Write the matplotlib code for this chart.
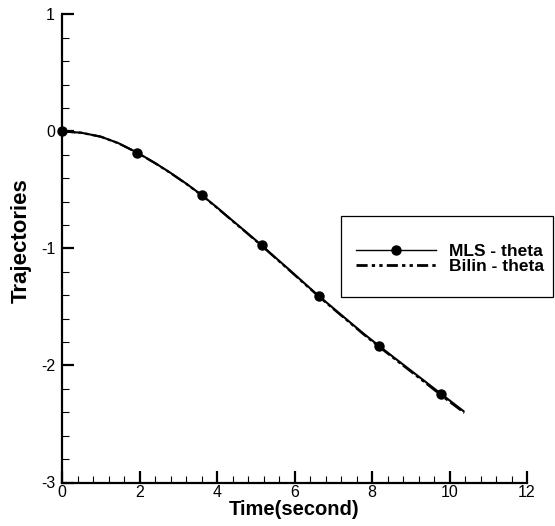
import matplotlib
matplotlib.use("Agg")
import matplotlib.pyplot as plt
from matplotlib.ticker import MultipleLocator
from matplotlib.lines import Line2D
from matplotlib.patches import Rectangle

plt.rcParams['font.family'] = ['Liberation Sans', 'DejaVu Sans']

# Data
t_mls = [0, 0.5, 1.0, 1.45, 1.94, 2.4, 2.78, 3.2, 3.61, 4.0, 4.38, 4.77, 5.15, 5.52, 5.9, 6.27,
         6.64, 7.02, 7.4, 7.78, 8.17, 8.57, 8.97, 9.37, 9.77, 10.07, 10.36]
y_mls = [0, -0.012, -0.045, -0.10, -0.181, -0.27, -0.35, -0.445, -0.545, -0.65, -0.757, -0.865,
         -0.973, -1.082, -1.192, -1.302, -1.41, -1.516, -1.622, -1.727, -1.83, -1.933, -2.035,
         -2.137, -2.24, -2.316, -2.39]
t_marks = [0, 1.94, 3.61, 5.15, 6.64, 8.17, 9.77]
t_bil = [0, 0.5, 1.0, 1.45, 1.94, 2.4, 2.78, 3.2, 3.61, 4.0, 4.38, 4.77, 5.15, 5.52, 5.9, 6.27,
         6.64, 7.02, 7.4, 7.78, 8.17, 8.57, 8.97, 9.37, 9.77, 10.07, 10.38]
y_bil = [0, -0.012, -0.046, -0.101, -0.183, -0.272, -0.352, -0.447, -0.548, -0.653, -0.76, -0.869,
         -0.977, -1.086, -1.197, -1.307, -1.415, -1.522, -1.628, -1.734, -1.838, -1.941, -2.044,
         -2.147, -2.252, -2.328, -2.405]
labels = ["MLS - theta", "Bilin - theta"]
xticks = [0, 2, 4, 6, 8, 10, 12]
yticks = [-3, -2, -1, 0, 1]

mark_idx = [t_mls.index(v) for v in t_marks]

fig = plt.figure(figsize=(5.55, 5.26), dpi=100)
ax = fig.add_axes([62/555, 1-482.5/526, (527-62)/555, (482.5-14.3)/526])

dashdotdot = (0, (6, 1.5, 1.5, 1.5, 1.5, 1.5))
ax.plot(t_bil, y_bil, color='black', lw=1.6, linestyle=dashdotdot, clip_on=False)
ax.plot(t_mls, y_mls, color='black', lw=1.5, marker='o', markersize=6.5,
        markevery=mark_idx, clip_on=False)

ax.set_xlim(0, 12)
ax.set_ylim(-3, 1)
ax.set_xticks(xticks)
ax.set_yticks(yticks)
ax.set_xticklabels([str(v) for v in xticks])
ax.set_yticklabels([str(v) for v in yticks])
ax.xaxis.set_minor_locator(MultipleLocator(0.4))
ax.yaxis.set_minor_locator(MultipleLocator(0.2))
for s in ['top', 'right']:
    ax.spines[s].set_visible(False)
for s in ['left', 'bottom']:
    ax.spines[s].set_linewidth(1.6)
ax.tick_params(which='major', direction='in', length=8.5, width=1.6, labelsize=11.5)
ax.tick_params(which='minor', direction='in', length=5, width=0.8)
ax.tick_params(axis='x', pad=2)
ax.tick_params(axis='y', pad=5)

ax.set_xlabel("Time(second)", fontsize=14.5, fontweight='bold', labelpad=0)
ax.set_ylabel("Trajectories", fontsize=16, fontweight='bold')
ax.yaxis.set_label_coords(-0.064, 0.516)

# legend box
rect = Rectangle((341/555, 1-297/526), (553-341)/555, (297-216)/526,
                 transform=fig.transFigure, facecolor='white', edgecolor='black',
                 lw=0.9, zorder=5)
fig.patches.append(rect)
h1 = Line2D([], [], color='black', lw=1.0, marker='o', markersize=6.5)
h2 = Line2D([], [], color='black', lw=2.0, linestyle=(0, (4, 1.5, 1.2, 1.5, 1.2, 1.5)))
leg = fig.legend([h1, h2], labels, loc='center left',
                 bbox_to_anchor=(359/555 - 0.006, 1-259/526), frameon=False,
                 prop={'weight': 'bold', 'size': 12.5}, handlelength=4.6,
                 handletextpad=0.8, labelspacing=-0.05, borderpad=0, borderaxespad=0)
leg.set_zorder(6)

fig.savefig("out.png", dpi=100)
